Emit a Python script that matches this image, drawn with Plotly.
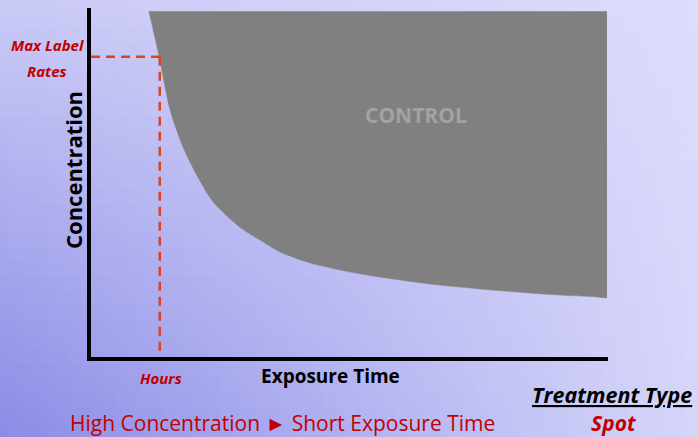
import plotly.graph_objects as go

# edge of the control region (concentration vs exposure time)
curve_time = [1.12, 1.32, 1.53, 1.78, 2.05, 2.36, 2.88, 3.27, 3.66, 4.18,
              4.82, 5.45, 6.11, 6.75, 7.52, 7.91, 8.88, 9.79, 9.98]
curve_conc = [9.91, 8.60, 7.08, 6.02, 5.20, 4.45, 3.72, 3.35, 3.01, 2.72,
              2.49, 2.32, 2.18, 2.06, 1.95, 1.90, 1.79, 1.72, 1.69]
top_conc = 9.91
max_label_rate = 8.60
hours = 1.33

W, H = 698, 437


def px(x):
    return x / W


def py(y):
    return 1 - y / H


# background gradient (corners: top-left, top-right, bottom-left, bottom-right)
c_tl, c_tr, c_bl, c_br = (202, 202, 246), (220, 220, 252), (139, 139, 230), (214, 214, 250)
shapes = []
nx, ny = 60, 30
for i in range(nx):
    for j in range(ny):
        u = (i + 0.5) / nx
        v = (j + 0.5) / ny
        col = []
        for k in range(3):
            top = c_tl[k] * (1 - u) + c_tr[k] * u
            bot = c_bl[k] * (1 - u) + c_br[k] * u
            col.append(int(round(top * (1 - v) + bot * v)))
        shapes.append(dict(
            type="rect", xref="paper", yref="paper", layer="below",
            x0=i / nx - 0.001, x1=(i + 1) / nx + 0.001,
            y0=1 - (j + 1) / ny - 0.001, y1=1 - j / ny + 0.001,
            fillcolor="rgb(%d,%d,%d)" % tuple(col), line=dict(width=0),
        ))

fig = go.Figure()

# top edge, then the curve filled up to it
fig.add_trace(go.Scatter(
    x=[curve_time[0], curve_time[-1]], y=[top_conc, top_conc],
    mode="lines", line=dict(width=0, color="#808080"), hoverinfo="skip",
))
fig.add_trace(go.Scatter(
    x=curve_time, y=curve_conc, fill="tonexty", fillcolor="#808080",
    mode="lines", line=dict(width=0.5, color="#808080", shape="spline", smoothing=0.8),
    hoverinfo="skip",
))

red_dash = dict(color="#d9441c", width=2.5, dash="9px,6px")
fig.add_trace(go.Scatter(x=[0, hours], y=[max_label_rate, max_label_rate],
                         mode="lines", line=red_dash, hoverinfo="skip"))
fig.add_trace(go.Scatter(x=[hours, hours], y=[max_label_rate, 0],
                         mode="lines", line=red_dash, hoverinfo="skip"))

font = "'Open Sans', sans-serif"
red = "#c00000"
ann = [
    dict(x=px(47), y=py(45), text="<b><i>Max Label</i></b>", font=dict(size=15, color=red)),
    dict(x=px(47), y=py(71), text="<b><i>Rates</i></b>", font=dict(size=15, color=red)),
    dict(x=px(73), y=py(170), text="<b>Concentration</b>", textangle=-90,
         font=dict(size=22, color="black")),
    dict(x=px(161), y=py(378), text="<b><i>Hours</i></b>", font=dict(size=15, color=red)),
    dict(x=px(330), y=py(376), text="<b>Exposure Time</b>", font=dict(size=19, color="black")),
    dict(x=px(612), y=py(394), text="<b><i><u>Treatment Type</u></i></b>",
         font=dict(size=21.5, color="black")),
    dict(x=px(614), y=py(423), text="<b><i>Spot</i></b>", font=dict(size=21, color=red)),
    dict(x=px(282), y=py(423), text="High Concentration ► Short Exposure Time",
         font=dict(size=21, color=red)),
    dict(x=px(416), y=py(115), text="<b>CONTROL</b>", font=dict(size=21, color="#a3a3a3")),
]
for a in ann:
    a.update(xref="paper", yref="paper", showarrow=False, xanchor="center",
             yanchor="middle", borderpad=0)
    a["font"]["family"] = font

fig.update_layout(
    width=W, height=H,
    margin=dict(l=0, r=0, t=0, b=0),
    paper_bgcolor="#c8c8f5", plot_bgcolor="rgba(0,0,0,0)",
    showlegend=False,
    shapes=shapes,
    annotations=ann,
    xaxis=dict(domain=[px(91), px(608)], range=[0, 10], showgrid=False, zeroline=False,
               showticklabels=False, ticks="", showline=True, linecolor="black", linewidth=4),
    yaxis=dict(domain=[py(357), py(8)], range=[0, 10], showgrid=False, zeroline=False,
               showticklabels=False, ticks="", showline=True, linecolor="black", linewidth=4),
)

# page body has a default 8px margin; drop it so the figure fills the window
fig.write_html("out.html", config={"displayModeBar": False},
               post_script="document.body.style.margin = '0px';")
